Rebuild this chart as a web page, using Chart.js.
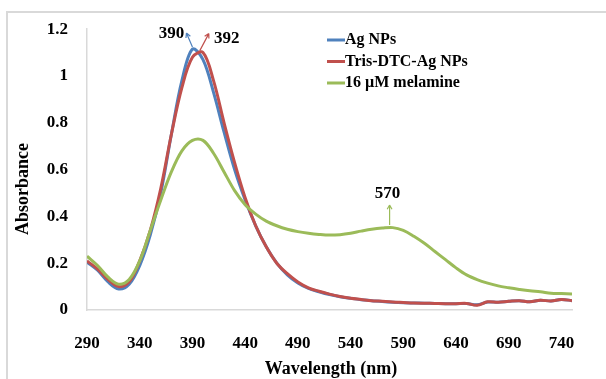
<!DOCTYPE html>
<html>
<head>
<meta charset="utf-8">
<script src="https://cdn.jsdelivr.net/npm/chart.js@4/dist/chart.umd.min.js"></script>
<style>
  html, body { margin: 0; padding: 0; background: #fff; }
  #wrap { position: relative; width: 606px; height: 379px; }
</style>
</head>
<body>
<div id="wrap"><canvas id="uvChart" width="606" height="379"></canvas></div>
<script>
// UV-vis spectra (nm / absorbance)
const wavelengths = [290, 300, 310, 320, 330, 340, 350, 360, 370, 380, 390, 400, 410, 420, 430, 440, 450, 460, 470, 480,
  490, 500, 510, 520, 530, 540, 550, 560, 570, 580, 590, 600, 610, 620, 630, 640, 650, 660, 670, 680,
  690, 700, 710, 720, 730, 740, 750];

const agNps = [0.205, 0.17, 0.12, 0.09, 0.11, 0.19, 0.32, 0.50, 0.75, 0.98, 1.115, 1.07, 0.93, 0.76, 0.60, 0.47, 0.36, 0.27, 0.20, 0.15,
  0.115, 0.092, 0.078, 0.066, 0.057, 0.05, 0.044, 0.04, 0.036, 0.033, 0.031, 0.03, 0.029, 0.028, 0.027, 0.027, 0.028, 0.022, 0.034, 0.033,
  0.037, 0.04, 0.035, 0.042, 0.038, 0.045, 0.04];

const trisDtc = [0.21, 0.175, 0.13, 0.10, 0.12, 0.21, 0.34, 0.52, 0.75, 0.95, 1.08, 1.10, 0.98, 0.80, 0.63, 0.48, 0.36, 0.27, 0.20, 0.155,
  0.12, 0.095, 0.08, 0.068, 0.058, 0.05, 0.045, 0.04, 0.037, 0.034, 0.032, 0.03, 0.029, 0.028, 0.027, 0.027, 0.028, 0.02, 0.035, 0.033,
  0.037, 0.04, 0.035, 0.042, 0.038, 0.045, 0.04];

const melamine = [0.23, 0.19, 0.14, 0.11, 0.13, 0.21, 0.34, 0.47, 0.59, 0.68, 0.725, 0.725, 0.67, 0.59, 0.51, 0.45, 0.41, 0.38, 0.36, 0.345,
  0.335, 0.328, 0.323, 0.32, 0.322, 0.328, 0.337, 0.345, 0.35, 0.352, 0.34, 0.315, 0.285, 0.25, 0.215, 0.18, 0.15, 0.13, 0.115, 0.103,
  0.095, 0.088, 0.082, 0.078, 0.072, 0.07, 0.068];

const xTicks = [290, 340, 390, 440, 490, 540, 590, 640, 690, 740];
const yTicks = [0, 0.2, 0.4, 0.6, 0.8, 1, 1.2];

const seriesNames = ['Ag NPs', 'Tris-DTC-Ag NPs', '16 \u00b5M melamine'];
const seriesColors = ['#4f81bd', '#c0504d', '#9bbb59'];

// peak markers: [label, wavelength, absorbance]
const peaks = [
  ['390', 390, 1.115],
  ['392', 397, 1.10],
  ['570', 577, 0.355]
];

const FONT = '"Liberation Serif", "Times New Roman", serif';

function toPoints(ys) {
  return wavelengths.map((x, i) => ({ x, y: ys[i] }));
}

function drawArrow(ctx, x1, y1, x2, y2, color) {
  const ang = Math.atan2(y2 - y1, x2 - x1);
  ctx.save();
  ctx.strokeStyle = color;
  ctx.lineWidth = 1.2;
  ctx.beginPath();
  ctx.moveTo(x1, y1);
  ctx.lineTo(x2, y2);
  ctx.moveTo(x2, y2);
  ctx.lineTo(x2 - 5 * Math.cos(ang - 0.5), y2 - 5 * Math.sin(ang - 0.5));
  ctx.moveTo(x2, y2);
  ctx.lineTo(x2 - 5 * Math.cos(ang + 0.5), y2 - 5 * Math.sin(ang + 0.5));
  ctx.stroke();
  ctx.restore();
}

const decorations = {
  id: 'decorations',
  beforeDraw(chart) {
    const ctx = chart.ctx;
    ctx.save();
    ctx.fillStyle = '#fff';
    ctx.fillRect(0, 0, chart.width, chart.height);
    // outer frame
    ctx.strokeStyle = '#d9d9d9';
    ctx.lineWidth = 2;
    ctx.beginPath();
    ctx.moveTo(7, chart.height + 2);
    ctx.lineTo(7, 12);
    ctx.lineTo(chart.width + 2, 12);
    ctx.stroke();
    ctx.restore();
  },
  afterDraw(chart) {
    const ctx = chart.ctx;
    const xs = chart.scales.x, ys = chart.scales.y;
    ctx.save();
    ctx.fillStyle = '#000';
    ctx.font = 'bold 18px ' + FONT;
    ctx.textAlign = 'center';
    ctx.textBaseline = 'middle';
    ctx.fillText('Wavelength (nm)', 331, 369);
    ctx.save();
    ctx.translate(23, 189);
    ctx.rotate(-Math.PI / 2);
    ctx.fillText('Absorbance', 0, 0);
    ctx.restore();

    // legend
    ctx.font = 'bold 16px ' + FONT;
    ctx.textAlign = 'left';
    seriesNames.forEach((name, i) => {
      const y = 40 + i * 21.5;
      ctx.strokeStyle = seriesColors[i];
      ctx.lineWidth = 3;
      ctx.beginPath();
      ctx.moveTo(327, y);
      ctx.lineTo(345, y);
      ctx.stroke();
      ctx.fillStyle = '#000';
      ctx.fillText(name, 345, y);
    });

    // peak arrows and labels
    ctx.font = 'bold 17px ' + FONT;
    ctx.textAlign = 'center';
    const offsets = [[-6, -14, -21, -13], [9, -17, 27, -12], [0, -20, -2, -31]];
    peaks.forEach(([label, nm, abs], i) => {
      const px = xs.getPixelForValue(nm);
      const py = ys.getPixelForValue(abs) - 2;
      const [dx, dy, tx, ty] = offsets[i];
      drawArrow(ctx, px, py, px + dx, py + dy, seriesColors[i]);
      ctx.fillStyle = '#000';
      ctx.fillText(label, px + tx, py + ty);
    });
    ctx.restore();
  }
};

new Chart(document.getElementById('uvChart'), {
  type: 'line',
  data: {
    datasets: [
      { label: seriesNames[0], data: toPoints(agNps), borderColor: seriesColors[0], order: 3 },
      { label: seriesNames[1], data: toPoints(trisDtc), borderColor: seriesColors[1], order: 2 },
      { label: seriesNames[2], data: toPoints(melamine), borderColor: seriesColors[2], order: 1 }
    ]
  },
  options: {
    responsive: false,
    animation: false,
    devicePixelRatio: 1,
    layout: { padding: { top: 24, right: 34, left: 0, bottom: 0 } },
    elements: {
      point: { radius: 0 },
      line: { borderWidth: 3, tension: 0.35, fill: false }
    },
    scales: {
      x: {
        type: 'linear',
        min: 290,
        max: 750,
        afterBuildTicks: s => { s.ticks = xTicks.map(v => ({ value: v })); },
        afterFit: s => { s.height = 69; },
        grid: { display: false, drawTicks: false },
        border: { display: true, color: '#d9d9d9', width: 1.5 },
        ticks: { color: '#000', padding: 23, maxRotation: 0, font: { family: FONT, size: 17, weight: 'bold' } }
      },
      y: {
        min: 0,
        max: 1.2,
        afterBuildTicks: s => { s.ticks = yTicks.map(v => ({ value: v })); },
        afterFit: s => { s.width = 87; },
        grid: { display: false, drawTicks: false },
        border: { display: true, color: '#d9d9d9', width: 1.5 },
        ticks: { color: '#000', padding: 19, callback: v => String(v), font: { family: FONT, size: 17, weight: 'bold' } }
      }
    },
    plugins: {
      legend: { display: false },
      tooltip: { enabled: false }
    }
  },
  plugins: [decorations]
});
</script>
</body>
</html>
